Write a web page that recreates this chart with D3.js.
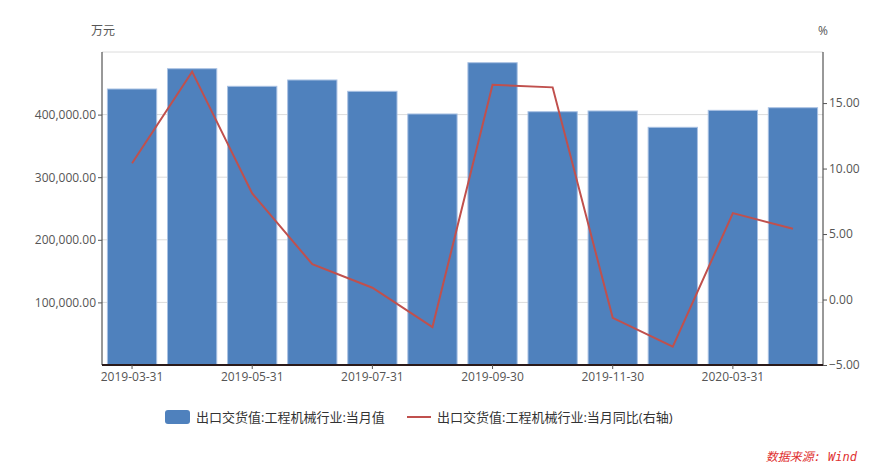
<!DOCTYPE html>
<html>
<head>
<meta charset="utf-8">
<script src="https://cdn.jsdelivr.net/npm/d3@7"></script>
<style>
  body { margin: 0; background: #fff; }
  text { font-family: "Open Sans", "Noto Sans CJK SC", sans-serif; }
</style>
</head>
<body>
<div id="chart"></div>
<script>
// data
var categories = ['2019-03-31', '2019-04-30', '2019-05-31', '2019-06-30', '2019-07-31', '2019-08-31',
                  '2019-09-30', '2019-10-31', '2019-11-30', '2019-12-31', '2020-03-31', '2020-04-30'];
var exportValue = [440900, 473300, 445200, 455300, 437200, 401000, 482900, 404600, 405800, 379700, 406800, 411000];
var exportYoY = [10.4, 17.4, 8.1, 2.7, 0.9, -2.1, 16.4, 16.2, -1.4, -3.6, 6.6, 5.4];
var leftTicks = [100000, 200000, 300000, 400000];
var rightTicks = [-5, 0, 5, 10, 15];
var xTickLabels = ['2019-03-31', '2019-05-31', '2019-07-31', '2019-09-30', '2019-11-30', '2020-03-31'];
var seriesNames = ['出口交货值:工程机械行业:当月值', '出口交货值:工程机械行业:当月同比(右轴)'];

var W = 889, H = 464;
var m = {top: 52, right: 66, bottom: 99, left: 102};
var w = W - m.left - m.right, h = H - m.top - m.bottom;

var svg = d3.select('#chart').append('svg')
    .attr('width', W)
    .attr('height', H);

var g = svg.append('g').attr('transform', 'translate(' + m.left + ',' + m.top + ')');

var x = d3.scaleBand().domain(categories).range([0, w]).paddingInner(0.18).paddingOuter(0.09);
var yL = d3.scaleLinear().domain([0, 500000]).range([h, 0]);
var yR = d3.scaleLinear().domain([-5, 18.9]).range([h, 0]);

// grid
g.selectAll('.grid').data(leftTicks.concat([500000])).enter().append('line')
    .attr('x1', 0).attr('x2', w)
    .attr('y1', function(d){ return yL(d); }).attr('y2', function(d){ return yL(d); })
    .attr('stroke', '#dcdcdc').attr('stroke-width', 1);

// bars
g.selectAll('.bar').data(exportValue).enter().append('rect')
    .attr('x', function(d, i){ return x(categories[i]); })
    .attr('y', function(d){ return yL(d); })
    .attr('width', x.bandwidth())
    .attr('height', function(d){ return h - yL(d); })
    .attr('fill', '#4f81bd')
    .attr('stroke', '#a9c1e3').attr('stroke-width', 1);

// line
var line = d3.line()
    .x(function(d, i){ return x(categories[i]) + x.bandwidth() / 2; })
    .y(function(d){ return yR(d); });
g.append('path').datum(exportYoY)
    .attr('d', line)
    .attr('fill', 'none')
    .attr('stroke', '#c0504d')
    .attr('stroke-width', 2);

// axes
var leftAxis = d3.axisLeft(yL).tickValues(leftTicks).tickSize(4)
    .tickFormat(function(d){ return d3.format(',.2f')(d); });
var la = g.append('g').call(leftAxis);
la.select('.domain').attr('stroke', '#333').attr('d', 'M0,0V' + h);

var rightAxis = d3.axisRight(yR).tickValues(rightTicks).tickSize(4)
    .tickFormat(d3.format('.2f'));
var ra = g.append('g').attr('transform', 'translate(' + w + ',0)').call(rightAxis);
ra.select('.domain').attr('stroke', '#333').attr('d', 'M0,0V' + h);

var bottomAxis = d3.axisBottom(x).tickValues(xTickLabels).tickSize(4);
var ba = g.append('g').attr('transform', 'translate(0,' + h + ')').call(bottomAxis);
ba.select('.domain').attr('stroke', '#2a1a1a').attr('stroke-width', 2).attr('d', 'M0,0H' + w);

[la, ra, ba].forEach(function(a){
    a.selectAll('.tick line').attr('stroke', '#555');
    a.selectAll('.tick text').attr('fill', '#555').style('font-size', '12px');
});
la.selectAll('.tick text').attr('x', -6);
ra.selectAll('.tick text').attr('x', 6);
ba.selectAll('.tick text').attr('y', 7);

// unit labels
svg.append('text').attr('x', 103).attr('y', 35).attr('text-anchor', 'middle')
    .attr('fill', '#555').style('font-size', '12px').text('万元');
svg.append('text').attr('x', 823).attr('y', 35).attr('text-anchor', 'middle')
    .attr('fill', '#555').style('font-size', '12px').text('%');

// legend
var lg = svg.append('g');
lg.append('rect').attr('x', 165).attr('y', 410).attr('width', 25).attr('height', 14)
    .attr('rx', 3).attr('fill', '#4f81bd');
lg.append('text').attr('x', 196).attr('y', 422).attr('fill', '#333')
    .style('font-size', '13px').text(seriesNames[0]);
lg.append('line').attr('x1', 407).attr('x2', 431).attr('y1', 417).attr('y2', 417)
    .attr('stroke', '#c0504d').attr('stroke-width', 2);
lg.append('text').attr('x', 437).attr('y', 422).attr('fill', '#333')
    .style('font-size', '13px').text(seriesNames[1]);

// source
svg.append('text').attr('x', 857).attr('y', 461).attr('text-anchor', 'end')
    .attr('fill', '#e03030').style('font-size', '12px').style('font-style', 'italic')
    .style('font-family', '"DejaVu Sans Mono", "Noto Sans CJK SC", monospace')
    .text('数据来源: Wind');
</script>
</body>
</html>
